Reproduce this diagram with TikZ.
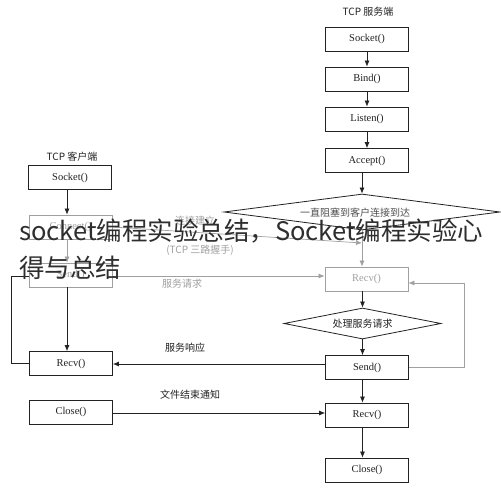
\documentclass[tikz,border=0pt]{standalone}
\usepackage{fontspec}
\setmainfont{Liberation Serif}
\newfontfamily\cjk{Noto Sans CJK SC}
\usetikzlibrary{shapes.geometric,arrows.meta}
\definecolor{ink}{HTML}{222222}
\definecolor{faint}{HTML}{A0A0A0}
\definecolor{overlay}{HTML}{2E2E2E}
\tikzset{
  box/.style={draw=ink, line width=0.8pt, minimum width=83pt, minimum height=24pt, inner sep=0pt, font=\fontsize{10.5}{12}\selectfont, text=ink},
  fbox/.style={box, draw=faint, text=faint},
  dia/.style={draw=ink, line width=0.8pt, diamond, shape aspect=8, inner sep=0pt, font=\cjk\fontsize{10}{12}\selectfont, text=ink},
  lbl/.style={font=\cjk\fontsize{10}{12}\selectfont, text=ink, inner sep=0pt},
  flbl/.style={lbl, text=faint},
  conn/.style={draw=ink, line width=0.7pt, -{Latex[length=6pt,width=5pt]}},
  fconn/.style={conn, draw=faint},
  plain/.style={draw=ink, line width=0.7pt},
  fplain/.style={draw=faint, line width=0.7pt},
  over/.style={font=\cjk\fontsize{25.5}{37}\selectfont, text=overlay, align=left, inner sep=0pt, anchor=north west}
}
\begin{document}
\begin{tikzpicture}[x=1pt,y=-1pt]
\useasboundingbox (0,0) rectangle (501,490);
\fill[white] (0,0) rectangle (501,490);

% titles
\node[lbl] (tS) at (368,12) {TCP 服务端};
\node[lbl] (tC) at (72,157) {TCP 客户端};

% server
\node[box] (sSocket) at (367,39) {Socket()};
\node[box] (sBind) at (367,79) {Bind()};
\node[box] (sListen) at (367,119) {Listen()};
\node[box] (sAccept) at (367,160.5) {Accept()};
\node[dia, minimum width=276pt, minimum height=36pt] (dA) at (362,212) {};
\node[lbl, text=ink!80] (dAt) at (355,213) {一直阻塞到客户连接到达};
\node[fbox] (sRecv) at (366.5,279) {Recv()};
\node[dia, minimum width=157pt, minimum height=31pt] (dP) at (362.5,323.5) {处理服务请求};
\node[box] (sSend) at (367,367.5) {Send()};
\node[box] (sRecv2) at (367,415) {Recv()};
\node[box] (sClose) at (367,470) {Close()};

% client
\node[box] (cSocket) at (70,177.5) {Socket()};
\node[fbox] (cConnect) at (70.5,227) {Connect()};
\node[fbox] (cSend) at (70.5,275) {Send()};
\node[box] (cRecv) at (71,363.5) {Recv()};
\node[box] (cClose) at (71,412) {Close()};

% server chain
\draw[conn] (sSocket) -- (sBind);
\draw[conn] (sBind) -- (sListen);
\draw[conn] (sListen) -- (sAccept);
\draw[conn] (sAccept.south -| dA.north) -- (dA.north);
\draw[fconn] (dA.south) -- (dA.south |- sRecv.north);
\draw[conn] (sRecv.south -| dP.north) -- (dP.north);
\draw[conn] (dP.south) -- (dP.south |- sSend.north);
\draw[conn] (sSend.south -| dP.south) -- (sRecv2.north -| dP.south);
\draw[conn] (sRecv2.south -| dP.south) -- (sClose.north -| dP.south);

% loop
\coordinate (lA) at (464,367.5);
\coordinate (lB) at (464,283);
\draw[fplain] (sSend.east) -- (lA) -- (lB);
\draw[fconn] (lB) -- (sRecv.east |- lB);

% client chain
\draw[conn] (cSocket.south -| 67,0) -- (cConnect.north -| 67,0);
\draw[fconn] (cConnect.south -| 67,0) -- (cSend.north -| 67,0);
\draw[conn] (cSend.south -| 67,0) -- (cRecv.north -| 67,0);

\coordinate (cL1) at (11,276);
\coordinate (cL2) at (11,363.5);
\draw[plain] (cSend.west |- cL1) -- (cL1) -- (cL2) -- (cRecv.west);

% connection establishment
\coordinate (cE) at (362,243);
\draw[fconn] (cConnect.east) -- (cE);
\node[flbl] (lConn) at (195,221) {连接建立};
\node[flbl] (lTcp) at (200,250) {(TCP 三路握手)};

% request
\draw[fconn] (cSend.east |- cL1) -- (sRecv.west |- cL1);
\node[flbl] (lReq) at (182,284) {服务请求};

% response
\draw[conn] (sSend.west |- 0,364) -- (cRecv.east |- 0,364);
\node[lbl] (lResp) at (185,348) {服务响应};

% end of file
\draw[conn] (cClose.east |- 0,413) -- (sRecv2.west |- 0,413);
\node[lbl] (lEnd) at (190,395) {文件结束通知};

% overlay caption
\node[over] (ov) at (19,219) {socket编程实验总结，Socket编程实验心\\得与总结};
\end{tikzpicture}
\end{document}
